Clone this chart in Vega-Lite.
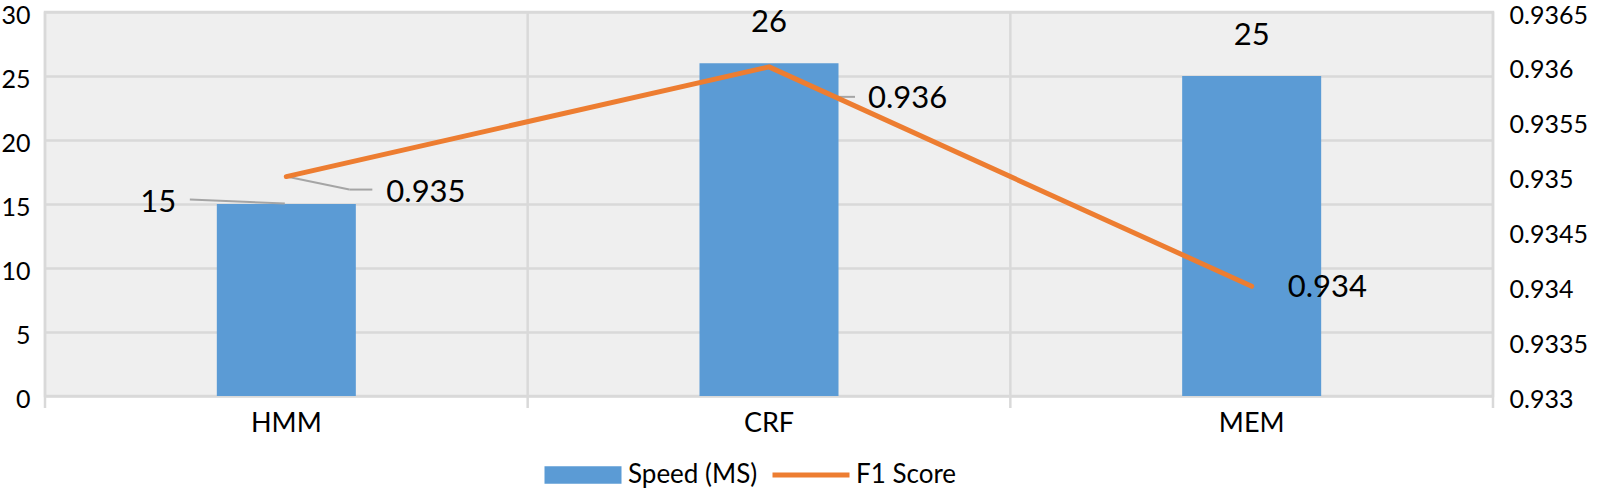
{
  "$schema": "https://vega.github.io/schema/vega-lite/v6.json",
  "width": 1448,
  "height": 384,
  "autosize": {"type": "none"},
  "padding": {"left": 45, "top": 12, "right": 105, "bottom": 100},
  "background": "#ffffff",
  "config": {
    "font": "Lato",
    "view": {"fill": "#efefef", "stroke": "#d9d9d9", "strokeWidth": 2.5},
    "axis": {"labelFont": "Lato", "labelColor": "#000000", "labelFontSize": 25, "titleFont": "Lato"},
    "text": {"font": "Lato", "color": "#000000"}
  },
  "data": {
    "values": [
      {"model": "HMM", "speed": 15, "f1": 0.935},
      {"model": "CRF", "speed": 26, "f1": 0.936},
      {"model": "MEM", "speed": 25, "f1": 0.934}
    ]
  },
  "encoding": {
    "x": {
      "field": "model", "type": "nominal", "sort": null,
      "scale": {"paddingInner": 0.712, "paddingOuter": 0.356},
      "axis": {"title": null, "labelAngle": 0, "ticks": false, "tickSize": 0, "domain": false, "grid": false, "labelPadding": 14, "labelFontSize": 27}
    }
  },
  "layer": [
    {
      "encoding": {
        "y": {
          "field": "speed", "type": "quantitative",
          "scale": {"domain": [0, 30], "nice": false},
          "axis": {"title": null, "values": [0, 5, 10, 15, 20, 25, 30], "grid": true, "gridColor": "#d9d9d9", "gridWidth": 2.5, "ticks": false, "tickSize": 0, "domain": false, "labelPadding": 15, "labelOffset": 3}
        }
      },
      "layer": [
        {
          "mark": {"type": "rule", "color": "#d9d9d9", "strokeWidth": 2.5, "yOffset": 12},
          "encoding": {
            "x": {"field": "model", "type": "nominal", "sort": null, "bandPosition": -1.2361, "title": null},
            "y": {"datum": 0},
            "y2": {"datum": 30}
          }
        },
        {
          "transform": [{"filter": "datum.model === 'MEM'"}],
          "mark": {"type": "rule", "color": "#d9d9d9", "strokeWidth": 2.5, "yOffset": 12},
          "encoding": {
            "x": {"field": "model", "type": "nominal", "sort": null, "bandPosition": 2.2361, "title": null},
            "y": {"datum": 0},
            "y2": {"datum": 30}
          }
        },
        {
          "mark": {"type": "bar"},
          "encoding": {
            "color": {
              "datum": "Speed (MS)",
              "scale": {"domain": ["Speed (MS)", "F1 Score"], "range": ["#5b9bd5", "#ed7d31"]},
              "legend": {
                "title": null, "orient": "none", "legendX": 525, "legendY": 450, "direction": "horizontal",
                "labelFontSize": 26, "labelFont": "Lato", "labelColor": "#000000",
                "symbolSize": 5929, "columnPadding": 4, "labelOffset": 32, "padding": 0,
                "encode": {"symbols": {"update": {
                  "shape": {"signal": "datum.value === 'F1 Score' ? 'stroke' : 'M-1,-0.23H1V0.23H-1Z'"},
                  "fill": {"signal": "datum.value === 'F1 Score' ? 'transparent' : '#5b9bd5'"},
                  "stroke": {"signal": "datum.value === 'F1 Score' ? '#ed7d31' : '#5b9bd5'"},
                  "strokeWidth": {"signal": "datum.value === 'F1 Score' ? 5 : 0"},
                  "opacity": {"value": 1}
                }}}
              }
            }
          }
        },
        {
          "transform": [{"filter": "datum.model === 'HMM'"}],
          "mark": {"type": "rule", "color": "#a5a5a5", "strokeWidth": 2, "xOffset": -1.5, "yOffset": -0.5, "x2Offset": -96.5, "y2Offset": -4.5},
          "encoding": {
            "x2": {"field": "model"},
            "y2": {"field": "speed"}
          }
        },
        {
          "transform": [{"filter": "datum.model === 'HMM'"}],
          "mark": {"type": "text", "fontSize": 31, "align": "center", "baseline": "middle", "dx": -128, "dy": -1},
          "encoding": {"text": {"field": "speed", "type": "quantitative"}}
        },
        {
          "transform": [{"filter": "datum.model !== 'HMM'"}],
          "mark": {"type": "text", "fontSize": 31, "align": "center", "baseline": "middle", "dy": -40},
          "encoding": {"text": {"field": "speed", "type": "quantitative"}}
        }
      ]
    },
    {
      "encoding": {
        "y": {
          "field": "f1", "type": "quantitative",
          "scale": {"domain": [0.933, 0.9365], "nice": false, "zero": false},
          "axis": {"title": null, "orient": "right", "values": [0.933, 0.9335, 0.934, 0.9345, 0.935, 0.9355, 0.936, 0.9365], "format": ".4~f", "grid": false, "ticks": false, "tickSize": 0, "domain": false, "labelPadding": 16, "labelOffset": 3}
        }
      },
      "layer": [
        {
          "transform": [{"filter": "datum.model === 'HMM'"}],
          "mark": {"type": "rule", "color": "#a5a5a5", "strokeWidth": 2, "x2Offset": 63, "y2Offset": 13},
          "encoding": {"x2": {"field": "model"}, "y2": {"field": "f1"}}
        },
        {
          "transform": [{"filter": "datum.model === 'HMM'"}],
          "mark": {"type": "rule", "color": "#a5a5a5", "strokeWidth": 2, "xOffset": 63, "yOffset": 13, "x2Offset": 86, "y2Offset": 13},
          "encoding": {"x2": {"field": "model"}, "y2": {"field": "f1"}}
        },
        {
          "transform": [{"filter": "datum.model === 'CRF'"}],
          "mark": {"type": "rule", "color": "#a5a5a5", "strokeWidth": 2, "x2Offset": 69, "y2Offset": 30},
          "encoding": {"x2": {"field": "model"}, "y2": {"field": "f1"}}
        },
        {
          "transform": [{"filter": "datum.model === 'CRF'"}],
          "mark": {"type": "rule", "color": "#a5a5a5", "strokeWidth": 2, "xOffset": 69, "yOffset": 30, "x2Offset": 86, "y2Offset": 30},
          "encoding": {"x2": {"field": "model"}, "y2": {"field": "f1"}}
        },
        {
          "mark": {"type": "line", "strokeWidth": 5, "strokeCap": "round", "strokeJoin": "round"},
          "encoding": {
            "color": {
              "datum": "F1 Score",
              "scale": {"domain": ["Speed (MS)", "F1 Score"], "range": ["#5b9bd5", "#ed7d31"]},
              "legend": {
                "title": null, "orient": "none", "legendX": 525, "legendY": 450, "direction": "horizontal",
                "labelFontSize": 26, "labelFont": "Lato", "labelColor": "#000000",
                "symbolSize": 5929, "columnPadding": 4, "labelOffset": 32, "padding": 0,
                "encode": {"symbols": {"update": {
                  "shape": {"signal": "datum.value === 'F1 Score' ? 'stroke' : 'M-1,-0.23H1V0.23H-1Z'"},
                  "fill": {"signal": "datum.value === 'F1 Score' ? 'transparent' : '#5b9bd5'"},
                  "stroke": {"signal": "datum.value === 'F1 Score' ? '#ed7d31' : '#5b9bd5'"},
                  "strokeWidth": {"signal": "datum.value === 'F1 Score' ? 5 : 0"},
                  "opacity": {"value": 1}
                }}}
              }
            }
          }
        },
        {
          "transform": [{"filter": "datum.model === 'HMM'"}],
          "mark": {"type": "text", "fontSize": 31, "align": "left", "baseline": "middle", "dx": 100, "dy": 16},
          "encoding": {"text": {"field": "f1", "type": "quantitative", "format": ".3f"}}
        },
        {
          "transform": [{"filter": "datum.model === 'CRF'"}],
          "mark": {"type": "text", "fontSize": 31, "align": "left", "baseline": "middle", "dx": 99, "dy": 32},
          "encoding": {"text": {"field": "f1", "type": "quantitative", "format": ".3f"}}
        },
        {
          "transform": [{"filter": "datum.model === 'MEM'"}],
          "mark": {"type": "text", "fontSize": 31, "align": "left", "baseline": "middle", "dx": 36, "dy": 2},
          "encoding": {"text": {"field": "f1", "type": "quantitative", "format": ".3f"}}
        }
      ]
    }
  ],
  "resolve": {"scale": {"y": "independent"}}
}
